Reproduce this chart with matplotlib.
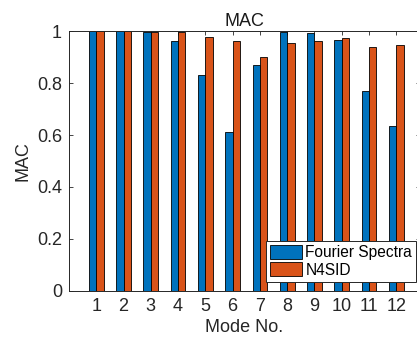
import matplotlib
matplotlib.use('Agg')
import matplotlib.pyplot as plt
import numpy as np

plt.rcParams['font.family'] = ['Liberation Sans', 'DejaVu Sans']

modes = [1, 2, 3, 4, 5, 6, 7, 8, 9, 10, 11, 12]
mac_fourier = [1.0, 1.0, 0.998, 0.963, 0.833, 0.611, 0.870, 0.999, 0.992, 0.968, 0.771, 0.634]
mac_n4sid = [1.0, 1.0, 0.998, 0.999, 0.979, 0.964, 0.900, 0.955, 0.963, 0.973, 0.941, 0.946]
labels = ['Fourier Spectra', 'N4SID']

C_BLUE = '#0072BD'
C_ORANGE = '#D95319'
C_AX = '#262626'

fig = plt.figure(figsize=(4.17, 3.40), dpi=100)
ax = fig.add_axes([69 / 417, (340 - 290.7) / 340, 350.5 / 417, 259.4 / 340])

x = np.array(modes, dtype=float)
w = 0.27
ax.bar(x - 0.135, mac_fourier, width=w, color=C_BLUE, edgecolor='black', linewidth=0.6,
       label=labels[0], zorder=2)
ax.bar(x + 0.135, mac_n4sid, width=w, color=C_ORANGE, edgecolor='black', linewidth=0.6,
       label=labels[1], zorder=2)

ax.set_xlim(0, 12.85)
ax.set_ylim(0, 1)
ax.set_xticks(modes)
ax.set_yticks([0, 0.2, 0.4, 0.6, 0.8, 1.0])
ax.set_yticklabels(['0', '0.2', '0.4', '0.6', '0.8', '1'])
ax.tick_params(direction='in', length=3, width=0.6, colors=C_AX, labelsize=13,
               top=True, right=True, pad=5)
for s in ax.spines.values():
    s.set_color(C_AX)
    s.set_linewidth(0.7)

ax.set_title('MAC', fontsize=13, color='#1a1a1a', pad=4)
ax.set_xlabel('Mode No.', fontsize=13, color=C_AX, labelpad=3)
ax.set_ylabel('MAC', fontsize=13, color=C_AX, labelpad=4)

leg = ax.legend(loc='lower left', bbox_to_anchor=(0.561, 0.035), fontsize=11.2,
                fancybox=False, framealpha=1, edgecolor=C_AX, borderpad=0.25,
                handlelength=2.1, handleheight=1.0, handletextpad=0.2,
                labelspacing=0.15, borderaxespad=0)
leg.get_frame().set_linewidth(0.7)

fig.savefig('out.png', dpi=100)
